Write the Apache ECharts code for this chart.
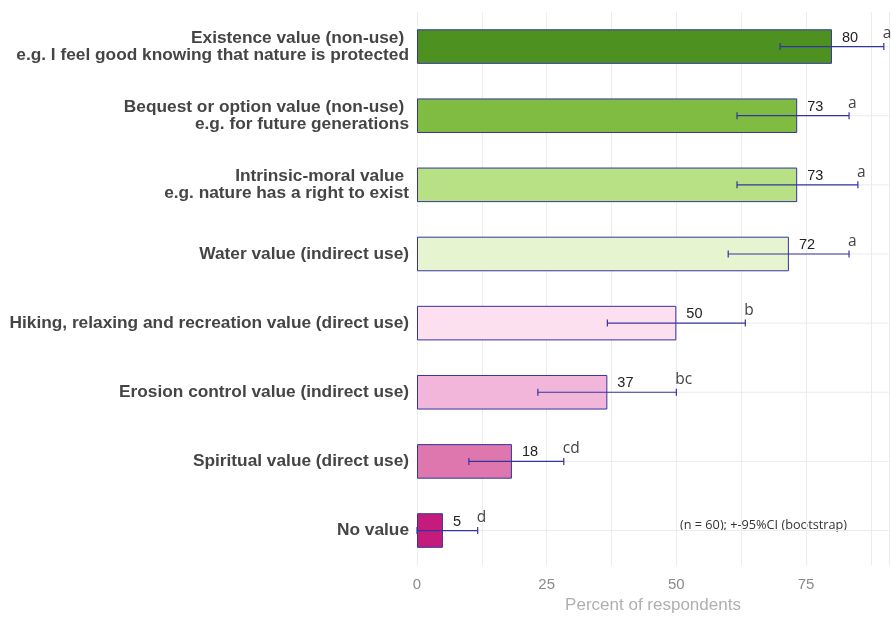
<!DOCTYPE html>
<html>
<head>
<meta charset="utf-8">
<script src="https://cdn.jsdelivr.net/npm/echarts@6/dist/echarts.min.js"></script>
<style>
  html, body { margin: 0; padding: 0; background: #ffffff; }
  #chart { width: 892px; height: 619px; }
</style>
</head>
<body>
<div id="chart"></div>
<script>
// Perceived values of nature, share of respondents (n = 60), top to bottom
const categories = [
  "Existence value (non-use) \ne.g. I feel good knowing that nature is protected",
  "Bequest or option value (non-use) \ne.g. for future generations",
  "Intrinsic-moral value \ne.g. nature has a right to exist",
  "Water value (indirect use)",
  "Hiking, relaxing and recreation value (direct use)",
  "Erosion control value (indirect use)",
  "Spiritual value (direct use)",
  "No value"
];
const percent = [80, 73.3, 73.3, 71.7, 50, 36.7, 18.3, 5];
const ciLow   = [70, 61.7, 61.7, 60, 36.7, 23.3, 10, 0];
const ciHigh  = [90, 83.3, 85, 83.3, 63.3, 50, 28.3, 11.7];
const groups  = ["a", "a", "a", "a", "b", "bc", "cd", "d"];
const barColors = ["#4d9221", "#7fbc41", "#b8e186", "#e6f5d0", "#fde0ef", "#f1b6da", "#de77ae", "#c51b7d"];
const xTicks = [0, 25, 50, 75];

const navy = "#34349e";
const chart = echarts.init(document.getElementById("chart"), null, { renderer: "canvas" });

chart.setOption({
  backgroundColor: "#ffffff",
  animation: false,
  grid: { left: 417, right: 0, top: 12, bottom: 51, containLabel: false },
  xAxis: {
    type: "value",
    min: 0,
    max: 91,
    interval: 12.5,
    name: "Percent of respondents",
    nameLocation: "middle",
    nameGap: 31.5,
    nameTextStyle: { color: "#b0b0b0", fontSize: 17, fontFamily: "Liberation Sans, Arial, sans-serif" },
    axisLine: { show: false },
    axisTick: { show: false },
    axisLabel: {
      margin: 12,
      color: "#8a8a8a",
      fontSize: 15,
      fontFamily: "Liberation Sans, Arial, sans-serif",
      formatter: v => (xTicks.indexOf(v) >= 0 ? String(v) : "")
    },
    splitLine: { show: true, lineStyle: { color: "#ececec", width: 1 } }
  },
  yAxis: {
    type: "category",
    inverse: true,
    data: categories,
    axisLine: { show: false },
    axisTick: { show: false },
    splitLine: { show: false },
    axisLabel: {
      margin: 8,
      color: "#454545",
      fontSize: 17.3,
      fontWeight: "bold",
      lineHeight: 16.5,
      align: "right",
      padding: [2, 0, 0, 0],
      fontFamily: "Liberation Sans, Arial, sans-serif"
    }
  },
  series: [
    {
      // horizontal guide lines through each category centre
      type: "custom",
      z: 0,
      silent: true,
      data: categories.map((c, i) => [0, i]),
      encode: { x: 0, y: 1 },
      renderItem: (params, api) => {
        const cs = params.coordSys;
        const y = api.coord([0, api.value(1)])[1];
        return {
          type: "line",
          shape: { x1: cs.x, y1: y, x2: cs.x + cs.width, y2: y },
          style: { stroke: "#ececec", lineWidth: 1 }
        };
      }
    },
    {
      type: "bar",
      z: 2,
      barWidth: "50%",
      data: percent.map((v, i) => ({
        value: v,
        itemStyle: { color: barColors[i], borderColor: navy, borderWidth: 1 }
      })),
      label: {
        show: true,
        position: "right",
        distance: 10,
        offset: [0, -9],
        color: "#222222",
        fontSize: 14.5,
        fontFamily: "Liberation Sans, Arial, sans-serif",
        formatter: p => String(Math.round(p.value))
      }
    },
    {
      // 95% bootstrap confidence intervals with significance letters
      type: "custom",
      z: 5,
      silent: true,
      data: categories.map((c, i) => [ciLow[i], ciHigh[i], i]),
      encode: { x: [0, 1], y: 2 },
      renderItem: (params, api) => {
        const idx = api.value(2);
        const p0 = api.coord([api.value(0), idx]);
        const p1 = api.coord([api.value(1), idx]);
        const h = 3.5;
        const ls = { stroke: navy, lineWidth: 1.2 };
        return {
          type: "group",
          children: [
            { type: "line", shape: { x1: p0[0], y1: p0[1], x2: p1[0], y2: p1[1] }, style: ls },
            { type: "line", shape: { x1: p0[0], y1: p0[1] - h, x2: p0[0], y2: p0[1] + h }, style: ls },
            { type: "line", shape: { x1: p1[0], y1: p1[1] - h, x2: p1[0], y2: p1[1] + h }, style: ls },
            {
              type: "text",
              style: {
                text: groups[params.dataIndex],
                x: p1[0] - 1,
                y: p1[1] - 12.5,
                textAlign: "left",
                textVerticalAlign: "middle",
                fill: "#444444",
                fontSize: 15.5,
                fontFamily: "Open Sans, Noto Sans, sans-serif"
              }
            }
          ]
        };
      }
    }
  ],
  graphic: [
    {
      type: "text",
      left: 680,
      top: 519,
      style: {
        text: "(n = 60); +-95%CI (bootstrap)",
        fill: "#333333",
        fontSize: 12.7,
        fontFamily: "Open Sans, Noto Sans, sans-serif"
      }
    }
  ]
});
</script>
</body>
</html>
